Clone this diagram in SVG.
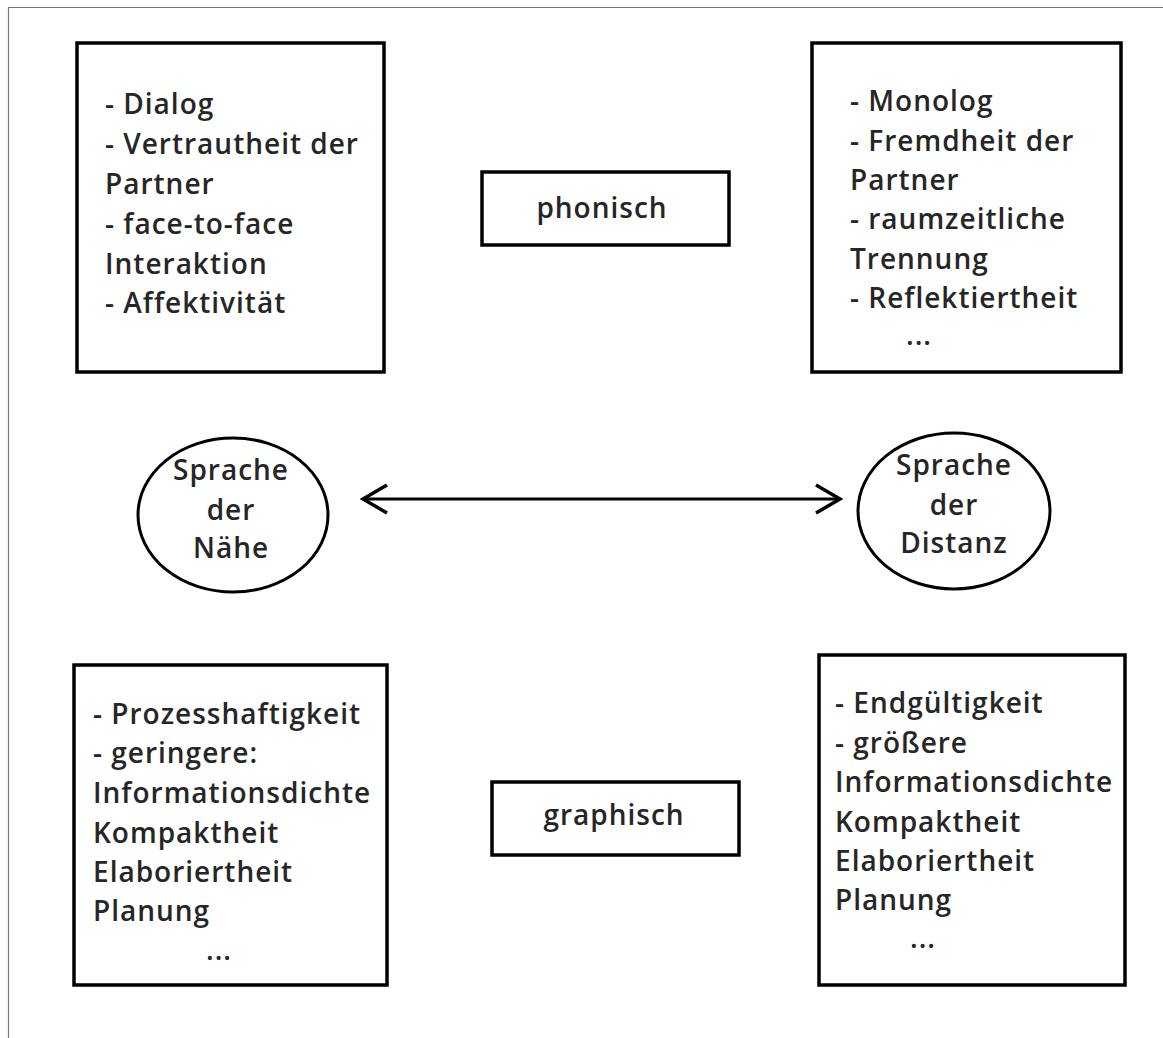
<svg xmlns="http://www.w3.org/2000/svg" width="1163" height="1038" viewBox="0 0 1163 1038">
<style>
.box{fill:#fff;stroke:#000;stroke-width:3.5}
.circ{fill:#fff;stroke:#000;stroke-width:3}
.t{font-family:"Open Sans","Noto Sans",sans-serif;font-size:28px;font-weight:600;letter-spacing:1px;fill:#262626}
.c{text-anchor:middle}
.conn{stroke:#000;stroke-width:3;fill:none}
</style>
<defs>
<marker id="ah" viewBox="0 0 30 32" refX="27" refY="16" markerWidth="30" markerHeight="32" markerUnits="userSpaceOnUse" orient="auto-start-reverse">
<path d="M3,2 L27,16 L3,30" fill="none" stroke="#000" stroke-width="3.5" stroke-linejoin="miter"/>
</marker>
</defs>
<rect width="1163" height="1038" fill="#fff"/>
<path d="M8.5,1038 V7.5 H1163" fill="none" stroke="#777" stroke-width="1.2"/>

<g id="box-top-left">
<rect class="box" x="77" y="43" width="307" height="329"/>
<text class="t" x="105" y="114">- Dialog</text>
<text class="t" x="105" y="154">- Vertrautheit der</text>
<text class="t" x="105" y="194">Partner</text>
<text class="t" x="105" y="234">- face-to-face</text>
<text class="t" x="105" y="274">Interaktion</text>
<text class="t" x="105" y="313">- Affektivität</text>
</g>

<g id="box-top-right">
<rect class="box" x="812" y="43" width="309" height="329"/>
<text class="t" x="850" y="111">- Monolog</text>
<text class="t" x="850" y="151">- Fremdheit der</text>
<text class="t" x="850" y="190">Partner</text>
<text class="t" x="850" y="229">- raumzeitliche</text>
<text class="t" x="850" y="269">Trennung</text>
<text class="t" x="850" y="308">- Reflektiertheit</text>
<text class="t" x="906" y="345">...</text>
</g>

<g id="phonisch">
<rect class="box" x="482" y="172" width="247" height="73"/>
<text class="t c" x="602" y="218">phonisch</text>
</g>

<g id="naehe">
<ellipse class="circ" cx="233" cy="515" rx="95" ry="77"/>
<text class="t c" x="231" y="480">Sprache</text>
<text class="t c" x="231" y="520">der</text>
<text class="t c" x="231" y="558">Nähe</text>
</g>

<g id="distanz">
<ellipse class="circ" cx="954" cy="511" rx="96" ry="78"/>
<text class="t c" x="954" y="475">Sprache</text>
<text class="t c" x="954" y="515">der</text>
<text class="t c" x="954" y="553">Distanz</text>
</g>

<g id="connectors">
<line class="conn" x1="363" y1="499" x2="840" y2="499" marker-start="url(#ah)" marker-end="url(#ah)"/>
</g>

<g id="graphisch">
<rect class="box" x="492" y="782" width="247" height="73"/>
<text class="t c" x="614" y="825">graphisch</text>
</g>

<g id="box-bottom-left">
<rect class="box" x="74" y="665" width="313" height="320"/>
<text class="t" x="93" y="724">- Prozesshaftigkeit</text>
<text class="t" x="93" y="763">- geringere:</text>
<text class="t" x="93" y="803">Informationsdichte</text>
<text class="t" x="93" y="843">Kompaktheit</text>
<text class="t" x="93" y="882">Elaboriertheit</text>
<text class="t" x="93" y="921">Planung</text>
<text class="t" x="206" y="960">...</text>
</g>

<g id="box-bottom-right">
<rect class="box" x="819" y="655" width="306" height="330"/>
<text class="t" x="835" y="713">- Endgültigkeit</text>
<text class="t" x="835" y="753">- größere</text>
<text class="t" x="835" y="792">Informationsdichte</text>
<text class="t" x="835" y="832">Kompaktheit</text>
<text class="t" x="835" y="871">Elaboriertheit</text>
<text class="t" x="835" y="910">Planung</text>
<text class="t" x="910" y="948">...</text>
</g>
</svg>
